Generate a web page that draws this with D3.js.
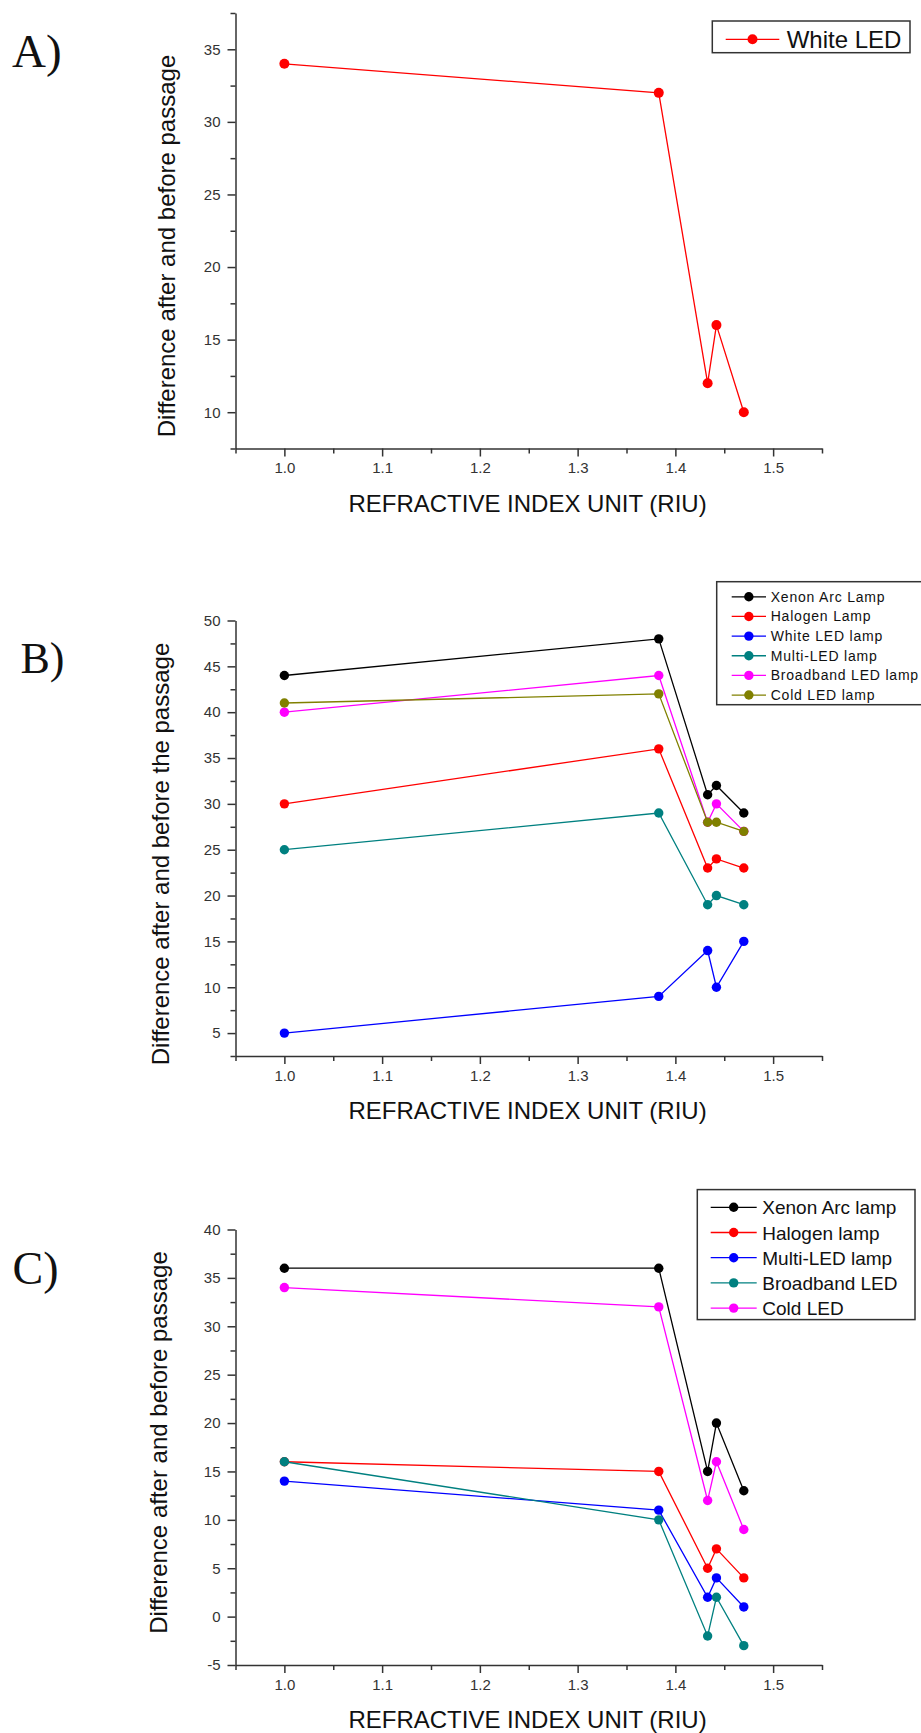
<!DOCTYPE html>
<html>
<head>
<meta charset="utf-8">
<script src="https://cdn.jsdelivr.net/npm/d3@7/dist/d3.min.js"></script>
<style>
  html, body { margin: 0; padding: 0; background: #fff; }
  svg { display: block; }
</style>
</head>
<body>
<svg id="fig" width="921" height="1733"></svg>
<script>
// Refractive index of each sample (shared x values of all panels)
const riu = [1.000, 1.383, 1.433, 1.442, 1.470];
const xTicks = [1.0, 1.1, 1.2, 1.3, 1.4, 1.5];
const xMinorTicks = [0.95, 1.05, 1.15, 1.25, 1.35, 1.45, 1.55];
const xDomain = [0.95, 1.55];

// Panel A
const namesA = ["White LED"];
const whiteLedA = [34, 32, 12, 16, 10];
const yDomainA = [7.5, 37.5];
const yTicksA = [10, 15, 20, 25, 30, 35];

// Panel B
const namesB = ["Xenon Arc Lamp", "Halogen Lamp", "White LED lamp", "Multi-LED lamp", "Broadband LED lamp", "Cold LED lamp"];
const xenonB = [44, 48, 31, 32, 29];
const halogenB = [30, 36, 23, 24, 23];
const whiteLedB = [5, 9, 14, 10, 15];
const multiLedB = [25, 29, 19, 20, 19];
const broadbandB = [40, 44, 28, 30, 27];
const coldLedB = [41, 42, 28, 28, 27];
const yDomainB = [2.5, 50];
const yTicksB = [5, 10, 15, 20, 25, 30, 35, 40, 45, 50];

// Panel C
const namesC = ["Xenon Arc lamp", "Halogen lamp", "Multi-LED lamp", "Broadband LED", "Cold LED"];
const xenonC = [36, 36, 15, 20, 13];
const halogenC = [16, 15, 5, 7, 4];
const multiLedC = [14, 11, 2, 4, 1];
const broadbandC = [16, 10, -2, 2, -3];
const coldLedC = [34, 32, 12, 16, 9];
const yDomainC = [-5, 40];
const yTicksC = [-5, 0, 5, 10, 15, 20, 25, 30, 35, 40];

const svg = d3.select("#fig");
svg.append("rect").attr("width", 921).attr("height", 1733).attr("fill", "#fff");

const AXIS = "#333";
const SANS = "'Liberation Sans', Arial, sans-serif";
const SERIF = "'Liberation Serif', 'Times New Roman', serif";
const plotLeft = 235.5, plotRight = 822, plotH = 435.5;
// integer labels with a plain hyphen for negatives
const intFormat = v => String(Math.round(v));

function minorOf(domain, majors) {
  const out = [];
  for (let v = domain[0]; v <= domain[1] + 1e-9; v += 2.5) {
    if (!majors.some(m => Math.abs(m - v) < 1e-9)) out.push(v);
  }
  return out;
}

function drawPanel(p) {
  const g = svg.append("g");
  const x = d3.scaleLinear().domain(xDomain).range([plotLeft, plotRight]);
  const y = d3.scaleLinear().domain(p.yDomain).range([p.top + plotH, p.top]);
  const bottom = p.top + plotH;

  // panel letter
  g.append("text").attr("x", p.letterX).attr("y", p.letterY)
    .attr("font-family", SERIF).attr("font-size", p.letterSize).attr("fill", "#111")
    .text(p.letter);

  // x axis: major + minor ticks
  const xa = g.append("g").attr("transform", `translate(0,${bottom})`)
    .call(d3.axisBottom(x).tickValues(xTicks).tickSize(8).tickSizeOuter(0).tickPadding(6)
      .tickFormat(d3.format(".1f")));
  const xm = g.append("g").attr("transform", `translate(0,${bottom})`)
    .call(d3.axisBottom(x).tickValues(xMinorTicks).tickSize(5).tickSizeOuter(0).tickFormat(""));
  xm.select(".domain").remove();

  // y axis
  const ya = g.append("g").attr("transform", `translate(${plotLeft},0)`)
    .call(d3.axisLeft(y).tickValues(p.yTicks).tickSize(8).tickSizeOuter(0).tickPadding(7)
      .tickFormat(intFormat));
  const ym = g.append("g").attr("transform", `translate(${plotLeft},0)`)
    .call(d3.axisLeft(y).tickValues(minorOf(p.yDomain, p.yTicks)).tickSize(5).tickSizeOuter(0).tickFormat(""));
  ym.select(".domain").remove();

  [xa, xm, ya, ym].forEach(a => {
    a.selectAll("path,line").attr("stroke", AXIS).attr("stroke-width", 1.5);
    a.selectAll("text").attr("font-family", SANS).attr("font-size", 15).attr("fill", "#333");
  });
  xa.selectAll("text").attr("dy", "0.71em");

  // axis titles
  g.append("text")
    .attr("x", 527.5).attr("y", bottom + 63)
    .attr("text-anchor", "middle").attr("font-family", SANS).attr("font-size", 24).attr("fill", "#111")
    .text("REFRACTIVE INDEX UNIT (RIU)");
  g.append("text")
    .attr("transform", `translate(${p.yLabelX},${p.yLabelY}) rotate(-90)`)
    .attr("text-anchor", "middle").attr("font-family", SANS).attr("font-size", 24).attr("fill", "#111")
    .text(p.yLabel);

  // series: line then markers
  const line = d3.line().x((d, i) => x(riu[i])).y(d => y(d));
  p.series.forEach((s, k) => {
    g.append("path").datum(s.values).attr("d", line)
      .attr("fill", "none").attr("stroke", s.color).attr("stroke-width", 1.3);
    g.selectAll(null).data(s.values).enter().append("circle")
      .attr("cx", (d, i) => x(riu[i])).attr("cy", d => y(d))
      .attr("r", p.markerR).attr("fill", s.color);
  });

  // legend
  const L = p.legend;
  g.append("rect").attr("x", L.x).attr("y", L.y).attr("width", L.w).attr("height", L.h)
    .attr("fill", "#fff").attr("stroke", AXIS).attr("stroke-width", 1.5);
  p.series.forEach((s, k) => {
    const cy = L.firstY + k * L.step;
    g.append("line").attr("x1", L.lineX1).attr("x2", L.lineX2).attr("y1", cy).attr("y2", cy)
      .attr("stroke", s.color).attr("stroke-width", 1.3);
    g.append("circle").attr("cx", (L.lineX1 + L.lineX2) / 2).attr("cy", cy)
      .attr("r", p.markerR).attr("fill", s.color);
    g.append("text").attr("x", L.textX).attr("y", cy + L.baseOff)
      .attr("font-family", SANS).attr("font-size", L.size).attr("fill", "#111")
      .attr("letter-spacing", L.spacing)
      .text(s.name);
  });
}

drawPanel({
  letter: "A)", letterX: 12, letterY: 66.7, letterSize: 47,
  top: 13, yDomain: yDomainA, yTicks: yTicksA,
  yLabel: "Difference after and before passage", yLabelX: 175, yLabelY: 246,
  markerR: 5,
  series: [{ name: namesA[0], values: whiteLedA, color: "#ff0000" }],
  legend: { x: 712.3, y: 21, w: 197.7, h: 31.7, firstY: 39.3, step: 0,
            lineX1: 725.7, lineX2: 779.3, textX: 786.7, baseOff: 8.2, size: 24, spacing: 0 }
});

drawPanel({
  letter: "B)", letterX: 20.5, letterY: 673.3, letterSize: 44,
  top: 620.5, yDomain: yDomainB, yTicks: yTicksB,
  yLabel: "Difference after and before the passage", yLabelX: 169.3, yLabelY: 854,
  markerR: 4.7,
  series: [
    { name: namesB[0], values: xenonB, color: "#000000" },
    { name: namesB[1], values: halogenB, color: "#ff0000" },
    { name: namesB[2], values: whiteLedB, color: "#0000ff" },
    { name: namesB[3], values: multiLedB, color: "#008080" },
    { name: namesB[4], values: broadbandB, color: "#ff00ff" },
    { name: namesB[5], values: coldLedB, color: "#808000" }
  ],
  legend: { x: 716.7, y: 581.7, w: 230, h: 123, firstY: 596.8, step: 19.65,
            lineX1: 731.7, lineX2: 766, textX: 770.7, baseOff: 5, size: 14, spacing: 0.8 }
});

drawPanel({
  letter: "C)", letterX: 12.5, letterY: 1283.8, letterSize: 46,
  top: 1229.5, yDomain: yDomainC, yTicks: yTicksC,
  yLabel: "Difference after and before passage", yLabelX: 166.7, yLabelY: 1442.5,
  markerR: 4.7,
  series: [
    { name: namesC[0], values: xenonC, color: "#000000" },
    { name: namesC[1], values: halogenC, color: "#ff0000" },
    { name: namesC[2], values: multiLedC, color: "#0000ff" },
    { name: namesC[3], values: broadbandC, color: "#008080" },
    { name: namesC[4], values: coldLedC, color: "#ff00ff" }
  ],
  legend: { x: 697.3, y: 1189.6, w: 217.7, h: 130, firstY: 1207.3, step: 25.2,
            lineX1: 710.7, lineX2: 756.7, textX: 762.3, baseOff: 7, size: 19, spacing: 0 }
});
</script>
</body>
</html>
